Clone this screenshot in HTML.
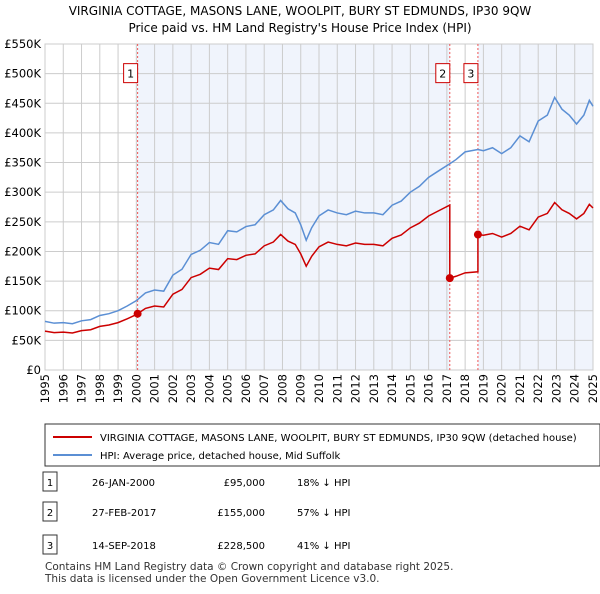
<!DOCTYPE html>
<html><head><meta charset="utf-8"><style>
body{margin:0;background:#fff;font-family:"DejaVu Sans",sans-serif;}
svg text{font-family:"DejaVu Sans",sans-serif;}
</style></head><body>
<svg id="c" width="600" height="590">
<text x="300" y="15" text-anchor="middle" font-size="12">VIRGINIA COTTAGE, MASONS LANE, WOOLPIT, BURY ST EDMUNDS, IP30 9QW</text>
<text x="300" y="32" text-anchor="middle" font-size="12">Price paid vs. HM Land Registry's House Price Index (HPI)</text>
<g id="plot"></g>
<g>
<rect x="45" y="424" width="555" height="42" fill="#fff" stroke="#333"/>
<line x1="53" y1="437" x2="92" y2="437" stroke="#cc0000" stroke-width="2"/>
<text x="100" y="441" font-size="10">VIRGINIA COTTAGE, MASONS LANE, WOOLPIT, BURY ST EDMUNDS, IP30 9QW (detached house)</text>
<line x1="53" y1="455" x2="92" y2="455" stroke="#5b8fd4" stroke-width="2"/>
<text x="100" y="459" font-size="10">HPI: Average price, detached house, Mid Suffolk</text>
</g>
<g id="tbl" font-size="10"></g>
<text x="45" y="570" font-size="10.5" fill="#333">Contains HM Land Registry data © Crown copyright and database right 2025.</text>
<text x="45" y="582" font-size="10.5" fill="#333">This data is licensed under the Open Government Licence v3.0.</text>
</svg>
<script>
const hpiYears=[1995,1995.5,1996,1996.5,1997,1997.5,1998,1998.5,1999,1999.5,2000,2000.5,2001,2001.5,2002,2002.5,2003,2003.5,2004,2004.5,2005,2005.5,2006,2006.5,2007,2007.5,2007.9,2008.3,2008.7,2009.0,2009.3,2009.6,2010,2010.5,2011,2011.5,2012,2012.5,2013,2013.5,2014,2014.5,2015,2015.5,2016,2016.5,2017.16,2017.5,2018,2018.7,2019,2019.5,2020,2020.5,2021,2021.5,2022,2022.5,2022.9,2023.3,2023.7,2024.1,2024.5,2024.8,2025];
const hpiValues=[82,79,80,78,83,85,92,95,100,108,117,130,135,133,160,170,195,202,215,212,235,233,242,245,262,270,286,272,265,245,219,240,260,270,265,262,268,265,265,262,278,285,300,310,325,335,348,355,368,372,370,375,365,375,395,385,420,430,460,440,430,415,430,455,445];
const saleDates=[2000.07,2017.16,2018.7];
const salePrices=[95,155,228.5];
const saleLabels=["1","2","3"];
const saleDateText=["26-JAN-2000","27-FEB-2017","14-SEP-2018"];
const salePriceText=["£95,000","£155,000","£228,500"];
const saleHpiText=["18% ↓ HPI","57% ↓ HPI","41% ↓ HPI"];
const yTicks=[0,50,100,150,200,250,300,350,400,450,500,550];
const xTicks=[1995,1996,1997,1998,1999,2000,2001,2002,2003,2004,2005,2006,2007,2008,2009,2010,2011,2012,2013,2014,2015,2016,2017,2018,2019,2020,2021,2022,2023,2024,2025];
const X0=45,X1=593,Y0=370,Y1=44;
const x=t=>X0+(t-1995)/30*(X1-X0);
const y=v=>Y0-v/550*(Y0-Y1);
const ns="http://www.w3.org/2000/svg";
const g=document.getElementById('plot');
function mk(tag,at,par){const e=document.createElementNS(ns,tag);for(const k in at)e.setAttribute(k,at[k]);(par||g).appendChild(e);return e;}
function hpiAt(t){for(let i=1;i<hpiYears.length;i++){if(t<=hpiYears[i]){const f=(t-hpiYears[i-1])/(hpiYears[i]-hpiYears[i-1]);return hpiValues[i-1]+f*(hpiValues[i]-hpiValues[i-1]);}}return hpiValues[hpiValues.length-1];}
let sh=mk('rect',{x:x(saleDates[0]),y:Y1,width:x(saleDates[1])-x(saleDates[0]),height:Y0-Y1,fill:'#f0f4fc'});

sh=mk('rect',{x:x(saleDates[2]),y:Y1,width:X1-x(saleDates[2]),height:Y0-Y1,fill:'#f0f4fc'});

yTicks.forEach(v=>{let l=mk('line',{x1:X0,x2:X1,y1:y(v),y2:y(v),stroke:'#ccc'});
let t=mk('text',{x:X0-4,y:y(v)+4,'text-anchor':'end','font-size':11.5});t.textContent=v===0?'£0':'£'+v+'K';});
xTicks.forEach(v=>{let l=mk('line',{x1:x(v),x2:x(v),y1:Y1,y2:Y0,stroke:'#ccc'});
let t=mk('text',{x:0,y:0,'text-anchor':'end','font-size':11.5,transform:`translate(${x(v)+4},${Y0+4}) rotate(-90)`});t.textContent=v;});
let bx=mk('rect',{x:X0,y:Y1,width:X1-X0,height:Y0-Y1,fill:'none',stroke:'#ccc'});
saleDates.forEach((d,i)=>{let l=mk('line',{x1:x(d),x2:x(d),y1:Y1,y2:Y0,stroke:'#e55','stroke-dasharray':'2,2'});
let r=mk('rect',{x:x(d)-14,y:y(500)-10,width:14,height:19,fill:'#fff',stroke:'#c00'});
let t=mk('text',{x:x(d)-7,y:y(500)+4,'text-anchor':'middle','font-size':11});t.textContent=saleLabels[i];});
let p=mk('polyline',{points:hpiYears.map((t,i)=>x(t)+','+y(hpiValues[i])).join(' '),fill:'none',stroke:'#5b8fd4','stroke-width':1.5});

const ratio0=salePrices[0]/hpiAt(saleDates[0]);
const pts=[];
const segs=[[1995,saleDates[1],-1],[saleDates[1],saleDates[2],1],[saleDates[2],2025,2]];
segs.forEach(([a,b,k])=>{const r=k<0?ratio0:salePrices[k]/hpiAt(saleDates[k]);
const ts=[a,...hpiYears.filter(t=>t>a&&t<b),b];ts.forEach(t=>pts.push(x(t)+','+y(hpiAt(t)*r)));});
p=mk('polyline',{points:pts.join(' '),fill:'none',stroke:'#cc0000','stroke-width':1.5});

saleDates.forEach((d,i)=>{let c=mk('circle',{cx:x(d),cy:y(salePrices[i]),r:4,fill:'#cc0000'});});
const tb=document.getElementById('tbl');
const rowsY=[482,512,545];
saleLabels.forEach((l,i)=>{let r=mk('rect',{x:43,y:rowsY[i]-10,width:14,height:19,fill:'#fff',stroke:'#333'},tb);
[[50,l,'middle'],[92,saleDateText[i],'start'],[265,salePriceText[i],'end'],[297,saleHpiText[i],'start']].forEach(([xx,s,a])=>{let t=mk('text',{x:xx,y:rowsY[i]+4,'text-anchor':a},tb);t.textContent=s;});});
</script>
</body></html>
